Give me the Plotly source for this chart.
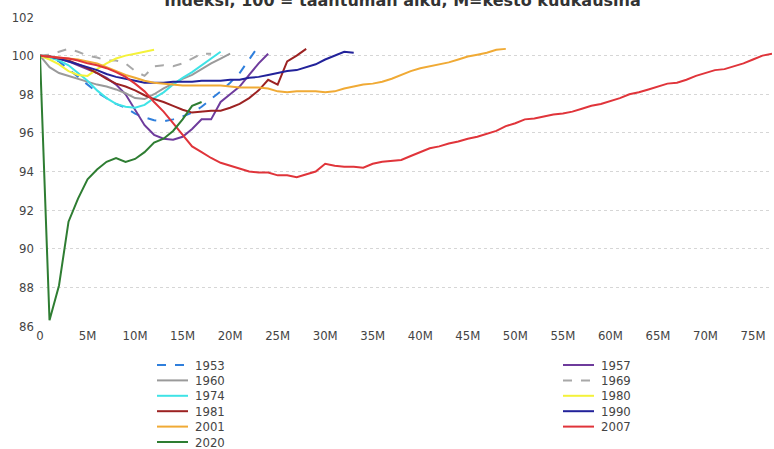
import plotly.graph_objects as go

title_text = "Indeksi, 100 = taantuman alku, M=kesto kuukausina"

years = ["1953", "1957", "1960", "1969", "1974", "1980", "1981", "1990", "2001", "2007", "2020"]

v1953 = [100, 99.9, 99.7, 99.3, 98.9, 98.5, 98.1, 97.8, 97.5, 97.3, 97.0, 96.8, 96.65, 96.6,
         96.7, 96.85, 97.05, 97.35, 97.75, 98.15, 98.6, 99.1, 99.8, 100.5]
v1957 = [100, 99.95, 99.85, 99.7, 99.5, 99.3, 99.1, 98.85, 98.5, 98.0, 97.2, 96.4, 95.9, 95.7,
         95.65, 95.8, 96.2, 96.7, 96.7, 97.6, 98.0, 98.4, 99.0, 99.6, 100.1]
v1960 = [100, 99.4, 99.1, 98.95, 98.8, 98.65, 98.5, 98.4, 98.25, 98.05, 97.8, 97.75, 98.0, 98.3,
         98.55, 98.8, 99.0, 99.3, 99.6, 99.85, 100.1]
v1969 = [100, 100.05, 100.2, 100.35, 100.2, 100.0, 99.9, 99.75, 99.75, 99.6, 99.2, 98.95, 99.45,
         99.5, 99.45, 99.6, 99.85, 100.1, 100.1]
v1974 = [100, 99.9, 99.75, 99.5, 99.1, 98.7, 98.2, 97.8, 97.5, 97.35, 97.3, 97.45, 97.8, 98.1,
         98.5, 98.85, 99.15, 99.5, 99.85, 100.2]
v1980 = [100, 99.8, 99.55, 99.2, 99.0, 98.95, 99.3, 99.6, 99.85, 100.0, 100.1, 100.2, 100.3]
v1981 = [100, 99.95, 99.85, 99.75, 99.55, 99.35, 99.1, 98.8, 98.55, 98.4, 98.2, 97.95, 97.75,
         97.6, 97.4, 97.2, 97.05, 97.1, 97.15, 97.15, 97.3, 97.5, 97.8, 98.2, 98.75, 98.5, 99.7,
         100.0, 100.35]
v1990 = [100, 99.95, 99.85, 99.7, 99.55, 99.4, 99.25, 99.05, 98.9, 98.8, 98.7, 98.6, 98.6, 98.6,
         98.65, 98.65, 98.65, 98.7, 98.7, 98.7, 98.75, 98.75, 98.85, 98.9, 99.0, 99.1, 99.2,
         99.25, 99.4, 99.55, 99.8, 100.0, 100.2, 100.15]
v2001 = [100, 99.95, 99.9, 99.85, 99.8, 99.7, 99.6, 99.4, 99.2, 99.0, 98.85, 98.7, 98.6, 98.55,
         98.5, 98.45, 98.45, 98.45, 98.45, 98.45, 98.4, 98.35, 98.35, 98.35, 98.3, 98.15, 98.1,
         98.15, 98.15, 98.15, 98.1, 98.15, 98.3, 98.4, 98.5, 98.55, 98.65, 98.8, 99.0, 99.2,
         99.35, 99.45, 99.55, 99.65, 99.8, 99.95, 100.05, 100.15, 100.3, 100.35]
v2007 = [100, 99.95, 99.9, 99.85, 99.75, 99.6, 99.5, 99.35, 99.15, 98.9, 98.55, 98.15, 97.6,
         97.1, 96.5, 95.9, 95.3, 95.0, 94.7, 94.45, 94.3, 94.15, 94.0, 93.95, 93.95, 93.8, 93.8,
         93.7, 93.85, 94.0, 94.4, 94.3, 94.25, 94.25, 94.2, 94.4, 94.5, 94.55, 94.6, 94.8, 95.0,
         95.2, 95.3, 95.45, 95.55, 95.7, 95.8, 95.95, 96.1, 96.35, 96.5, 96.7, 96.75, 96.85,
         96.95, 97.0, 97.1, 97.25, 97.4, 97.5, 97.65, 97.8, 98.0, 98.1, 98.25, 98.4, 98.55, 98.6,
         98.75, 98.95, 99.1, 99.25, 99.3, 99.45, 99.6, 99.8, 100.0, 100.1]
v2020 = [100, 86.3, 88.1, 91.4, 92.6, 93.6, 94.1, 94.5, 94.7, 94.5, 94.65, 95.0, 95.5, 95.7,
         96.1, 96.7, 97.4, 97.6]

series_values = [v1953, v1957, v1960, v1969, v1974, v1980, v1981, v1990, v2001, v2007, v2020]

x_tick_vals = [0, 5, 10, 15, 20, 25, 30, 35, 40, 45, 50, 55, 60, 65, 70, 75]
x_tick_text = ["0", "5M", "10M", "15M", "20M", "25M", "30M", "35M", "40M", "45M", "50M",
               "55M", "60M", "65M", "70M", "75M"]
y_tick_vals = [86, 88, 90, 92, 94, 96, 98, 100, 102]

legend_left = ["1953", "1960", "1974", "1981", "2001", "2020"]
legend_right = ["1957", "1969", "1980", "1990", "2007"]

colors = {
    "1953": "#2f7fdc", "1957": "#6e3b9c", "1960": "#9a9a9a", "1969": "#a8a8a8",
    "1974": "#3fe3e6", "1980": "#f4f23a", "1981": "#9c2222", "1990": "#22229a",
    "2001": "#f0aa35", "2007": "#e0343a", "2020": "#2e7d32",
}
dashes = {"1953": "dash", "1969": "dash"}

FONT = "DejaVu Sans Condensed, Liberation Sans Narrow, sans-serif"

fig = go.Figure()
for name, vals in zip(years, series_values):
    fig.add_trace(go.Scatter(
        x=list(range(len(vals))), y=vals, mode="lines", name=name,
        line=dict(color=colors[name], width=2, dash=dashes.get(name, "solid")),
        showlegend=False,
    ))

# Legend drawn as two columns (compact row spacing like the reference)
W, H = 774, 449
ml, mr, mt, mb = 40, 2, 17, 123
pw, ph = W - ml - mr, H - mt - mb

def px_to_paper_x(px):
    return (px - ml) / pw

def px_to_paper_y(py):
    return (H - mb - py) / ph

row0, rowstep = 365, 15.4
for col_x, names in ((157, legend_left), (563, legend_right)):
    for i, name in enumerate(names):
        py = row0 + i * rowstep
        fig.add_shape(type="line", xref="paper", yref="paper",
                      x0=px_to_paper_x(col_x), x1=px_to_paper_x(col_x + 31),
                      y0=px_to_paper_y(py), y1=px_to_paper_y(py),
                      line=dict(color=colors[name], width=2,
                                dash=dashes.get(name, "solid")))
        fig.add_annotation(x=px_to_paper_x(col_x + 36), y=px_to_paper_y(py),
                           xref="paper", yref="paper", text=name, showarrow=False,
                           xanchor="left", yanchor="middle",
                           font=dict(family=FONT, size=13, color="#444"))

fig.update_layout(
    width=W, height=H,
    margin=dict(l=ml, r=mr, t=mt, b=mb),
    paper_bgcolor="white", plot_bgcolor="white",
    font=dict(family=FONT, size=13, color="#444"),
    title=dict(text="<b>" + title_text + "</b>", x=0.52, xanchor="center",
               y=1.0, yref="container", yanchor="middle",
               font=dict(family="DejaVu Sans, sans-serif", size=16, color="#333")),
    showlegend=False,
    xaxis=dict(range=[0, 77], tickvals=x_tick_vals, ticktext=x_tick_text,
               showgrid=False, zeroline=False, showline=False, ticks="",
               automargin=False),
    yaxis=dict(range=[86, 102], tickvals=y_tick_vals, showgrid=True,
               gridcolor="#d6d6d6", griddash="dot", gridwidth=1,
               zeroline=False, showline=False, ticks="", ticklabelstandoff=5,
               automargin=False),
)

fig.write_html("out.html", config={"displayModeBar": False},
               post_script="document.body.style.margin='0';document.body.style.padding='0';")
